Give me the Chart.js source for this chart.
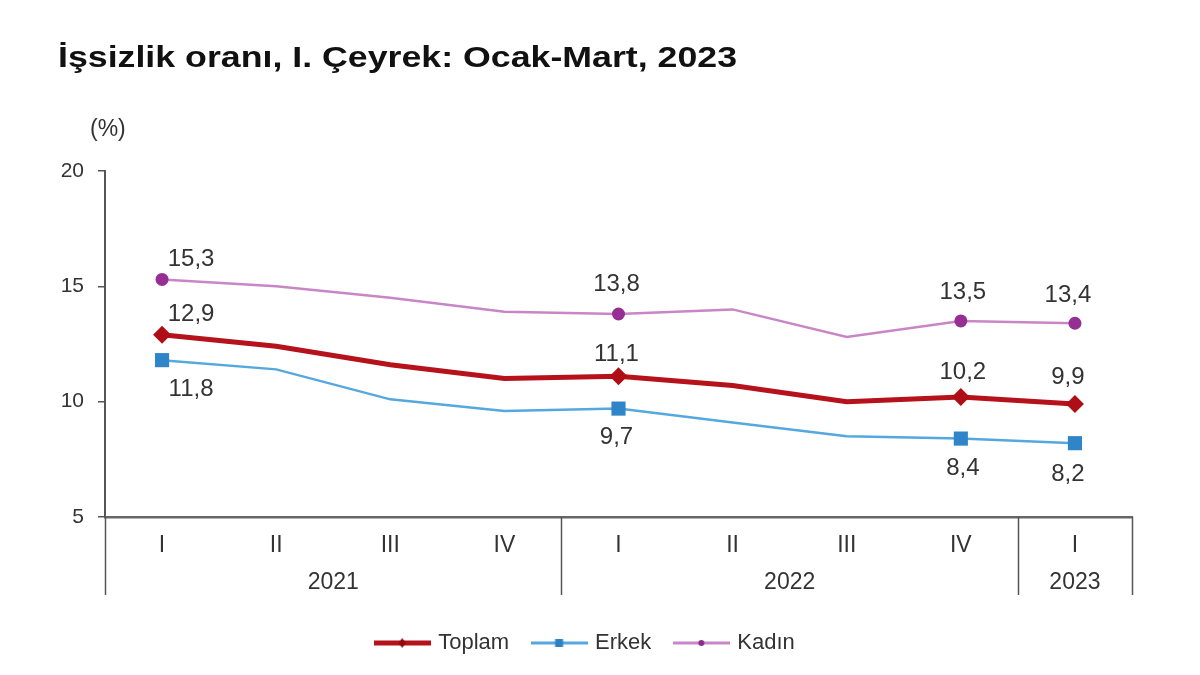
<!DOCTYPE html>
<html>
<head>
<meta charset="utf-8">
<script src="https://cdn.jsdelivr.net/npm/chart.js@4"></script>
<style>
  html, body { margin: 0; padding: 0; background: #fff; }
  canvas { display: block; }
</style>
</head>
<body>
<canvas id="chart" width="1200" height="675"></canvas>
<script>
const FONT = "'Liberation Sans', Arial, sans-serif";

// Veriler
const quarters = ["I", "II", "III", "IV", "I", "II", "III", "IV", "I"];
const years = ["2021", "2022", "2023"];
const yearSpans = [4, 4, 1];
const toplam = [12.9, 12.4, 11.6, 11.0, 11.1, 10.7, 10.0, 10.2, 9.9];
const erkek = [11.8, 11.4, 10.1, 9.6, 9.7, 9.1, 8.5, 8.4, 8.2];
const kadin = [15.3, 15.0, 14.5, 13.9, 13.8, 14.0, 12.8, 13.5, 13.4];
const yTicks = [5, 10, 15, 20];
const shown = [0, 4, 7, 8]; // işaretli ve etiketli çeyrekler

const radii = r => quarters.map((q, i) => shown.includes(i) ? r : 0);
const labelDx = [29, -2, 2, -7];

// Lejant simgeleri
function legendIcon(color, width, markColor, shape){
    const c = document.createElement("canvas"); c.width = 57; c.height = 14;
    const g = c.getContext("2d");
    g.strokeStyle = color; g.lineWidth = width;
    g.beginPath(); g.moveTo(0, 7); g.lineTo(57, 7); g.stroke();
    g.fillStyle = markColor;
    if(shape === "rect") g.fillRect(24.5, 3, 8, 8);
    else if(shape === "diamond"){ g.beginPath(); g.moveTo(28.5, 2); g.lineTo(32, 7); g.lineTo(28.5, 12); g.lineTo(25, 7); g.closePath(); g.fill(); }
    else { g.beginPath(); g.arc(28.5, 7, 3, 0, Math.PI * 2); g.fill(); }
    return c;
}
const legendIcons = [
    legendIcon("#B5121B", 5, "#8E0A10", "diamond"),
    legendIcon("#55A8DE", 3, "#2F80C4", "rect"),
    legendIcon("#C986C6", 3, "#8C2C8A", "circle")
];

const valueLabels = {
    id: "valueLabels",
    afterDatasetsDraw(chart){
        const ctx = chart.ctx;
        ctx.save();
        ctx.font = "24px " + FONT; ctx.fillStyle = "#333"; ctx.textAlign = "center"; ctx.textBaseline = "middle";
        chart.data.datasets.forEach((ds, di) => {
            const meta = chart.getDatasetMeta(di);
            shown.forEach((idx, k) => {
                const pt = meta.data[idx];
                const txt = ds.data[idx].toFixed(1).replace(".", ",");
                ctx.fillText(txt, pt.x + labelDx[k], pt.y + ds.labelDy[k]);
            });
        });
        ctx.restore();
    }
};

const decor = {
    id: "decor",
    afterDraw(chart){
        const ctx = chart.ctx, x = chart.scales.x, area = chart.chartArea;
        ctx.save();
        // başlık (görseldeki geniş yazıya uyması için yatayda esnetildi)
        const title = "İşsizlik oranı, I. Çeyrek: Ocak-Mart, 2023";
        ctx.fillStyle = "#111"; ctx.font = "bold 29px " + FONT; ctx.textBaseline = "alphabetic";
        const tw = ctx.measureText(title).width;
        ctx.save(); ctx.translate(58, 67); ctx.scale(679 / tw, 1); ctx.fillText(title, 0, 0); ctx.restore();

        ctx.fillStyle = "#333"; ctx.font = "23px " + FONT;
        ctx.fillText("(%)", 90, 136);

        // yıl grupları
        const step = x.getPixelForValue(1) - x.getPixelForValue(0);
        let start = 0;
        const edges = [area.left];
        ctx.font = "23px " + FONT; ctx.textAlign = "center"; ctx.textBaseline = "middle";
        years.forEach((y, i) => {
            const end = start + yearSpans[i] - 1;
            const cx = (x.getPixelForValue(start) + x.getPixelForValue(end)) / 2;
            ctx.fillText(y, cx, area.bottom + 66);
            edges.push(x.getPixelForValue(end) + step / 2);
            start = end + 1;
        });
        ctx.strokeStyle = "#555"; ctx.lineWidth = 1.5;
        edges.forEach(ex => {
            ctx.beginPath(); ctx.moveTo(Math.round(ex) + 0.5, area.bottom); ctx.lineTo(Math.round(ex) + 0.5, area.bottom + 78); ctx.stroke();
        });
        ctx.restore();
    }
};

new Chart(document.getElementById("chart"), {
    type: "line",
    data: {
        labels: quarters,
        datasets: [
            { label: "Toplam", data: toplam, borderColor: "#B5121B", backgroundColor: "#B5121B", borderWidth: 5,
              pointStyle: "rectRot", pointRadius: radii(9), pointBorderWidth: 0, pointBackgroundColor: "#B00E16",
              labelDy: [-20, -22, -25, -27] },
            { label: "Erkek", data: erkek, borderColor: "#55A8DE", backgroundColor: "#55A8DE", borderWidth: 2.5,
              pointStyle: "rect", pointRadius: radii(10), pointBorderWidth: 0, pointBackgroundColor: "#2F85C8",
              labelDy: [29, 29, 30, 31] },
            { label: "Kadın", data: kadin, borderColor: "#C986C6", backgroundColor: "#C986C6", borderWidth: 2.5,
              pointStyle: "circle", pointRadius: radii(6.5), pointBorderWidth: 0, pointBackgroundColor: "#952F93",
              labelDy: [-20, -30, -29, -28] }
        ]
    },
    options: {
        responsive: false,
        animation: false,
        layout: { padding: { top: 171, left: 40, right: 68, bottom: 11 } },
        plugins: {
            tooltip: { enabled: false },
            legend: {
                position: "bottom",
                labels: {
                    usePointStyle: true, pointStyleWidth: 50, boxHeight: 14, padding: 25,
                    font: { size: 22, family: FONT }, color: "#333",
                    generateLabels(chart){
                        const items = Chart.defaults.plugins.legend.labels.generateLabels(chart);
                        items.forEach((it, i) => { it.pointStyle = legendIcons[i]; });
                        return items;
                    }
                }
            }
        },
        scales: {
            x: {
                offset: true,
                grid: { display: false, drawTicks: false },
                border: { display: true, color: "#666", width: 2.5 },
                ticks: { font: { size: 23, family: FONT }, color: "#333", padding: 15, maxRotation: 0 },
                afterFit(s){ s.height = 90; }
            },
            y: {
                min: 5, max: 20,
                afterBuildTicks(s){ s.ticks = yTicks.map(v => ({ value: v })); },
                grid: { drawOnChartArea: false, drawTicks: true, tickLength: 7, color: "#555", lineWidth: 1.5 },
                border: { display: true, color: "#555", width: 2 },
                ticks: { font: { size: 21, family: FONT }, color: "#333", padding: 14 },
                afterFit(s){ s.width = 65; }
            }
        }
    },
    plugins: [valueLabels, decor]
});
</script>
</body>
</html>
